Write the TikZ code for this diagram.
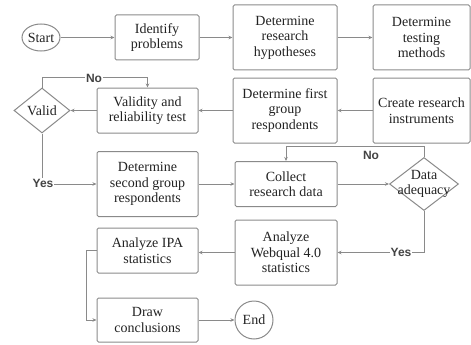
\documentclass[tikz,border=0pt]{standalone}
\usepackage{fontspec}
\setmainfont{Liberation Serif}
\newfontfamily\lblfont{Liberation Sans}
\usetikzlibrary{shapes.geometric,arrows.meta}
\definecolor{lc}{HTML}{8A8A8A}
\definecolor{tc}{HTML}{222222}
\definecolor{yc}{HTML}{444444}
\begin{document}
\begin{tikzpicture}[x=1pt,y=-1pt,
  box/.style 2 args={draw=lc, line width=1pt, rounded corners=1.5pt, align=center,
    font=\fontsize{14}{15.5}\selectfont, text=tc, inner sep=0pt,
    minimum width=#1pt, minimum height=#2pt},
  term/.style 2 args={ellipse, draw=lc, line width=1pt, inner sep=0pt,
    font=\fontsize{14}{15.5}\selectfont, text=tc, minimum width=#1pt, minimum height=#2pt},
  dia/.style 2 args={diamond, draw=lc, line width=1pt, inner sep=0pt, aspect=1.2,
    minimum width=#1pt, minimum height=#2pt},
  diatext/.style={align=center, font=\fontsize{14}{15.5}\selectfont, text=tc, inner sep=0pt},
  conn/.style={draw=lc, line width=0.9pt, -{Stealth[length=4pt,width=3.5pt]}},
  yn/.style={font=\lblfont\bfseries\fontsize{12}{12}\selectfont, text=yc, inner sep=1pt},
]
\useasboundingbox (0,0) rectangle (471,345);

% row 1
\node[term={38}{27}] (start) at (41,37.5) {Start};
\node[box={84}{45}] (id) at (157,37.5) {Identify\\problems};
\node[box={104}{65}] (hyp) at (285,37.5) {Determine\\research\\hypotheses};
\node[box={97}{65}] (meth) at (421.5,37.5) {Determine\\testing\\methods};

% row 2
\node[dia={56}{45}] (valid) at (42,110.5) {};
\node[diatext] (validt) at (valid) {Valid};
\node[box={101}{45}] (vt) at (147.5,110.5) {Validity and\\reliability test};
\node[box={104}{65}] (first) at (285,110.5) {Determine first\\group\\respondents};
\node[box={97}{65}] (cr) at (421.5,110.5) {Create research\\instruments};

% row 3
\node[box={101}{65}] (sec) at (147.5,184) {Determine\\second group\\respondents};
\node[box={102}{45}] (col) at (286,184) {Collect\\research data};
\node[dia={69}{53}] (ad) at (424,184) {};
\node[diatext] (adt) at (ad) {Data\\adequacy};

% row 4
\node[box={101}{45}] (ipa) at (147.5,250.5) {Analyze IPA\\statistics};
\node[box={102}{65}] (wq) at (286,252.5) {Analyze\\Webqual 4.0\\statistics};

% row 5
\node[box={101}{44}] (dr) at (147.5,320) {Draw\\conclusions};
\node[term={38}{38}] (end) at (254,320) {End};

% connectors
\draw[conn] (start) -- (id);
\draw[conn] (id) -- (hyp);
\draw[conn] (hyp) -- (meth);
\draw[conn] (cr) -- (first);
\draw[conn] (first) -- (vt);
\draw[conn] (vt) -- (valid);
\draw[conn] (valid.north) -- ++(0,-10) coordinate (vn) -| (vt.north);
\node[yn, fill=white] (no1) at (94,78) {No};
\draw[conn] (valid.south) |- (sec.west);
\node[yn, fill=white] (yes1) at (43,183) {Yes};
\draw[conn] (sec) -- (col);
\draw[conn] (col) -- (ad);
\draw[conn] (ad.north) -- ++(0,-10.5) coordinate (an) -| (col.north);
\node[yn] (no2) at (371,155) {No};
\draw[conn] (ad.south) |- (wq.east);
\node[yn, fill=white] (yes2) at (401,252.5) {Yes};
\draw[conn] (wq.west) -- (wq.west -| ipa.east);
\draw[conn] (ipa.west) -- ++(-10,0) coordinate (il) |- (dr.west);
\draw[conn] (dr) -- (end);
\end{tikzpicture}
\end{document}
